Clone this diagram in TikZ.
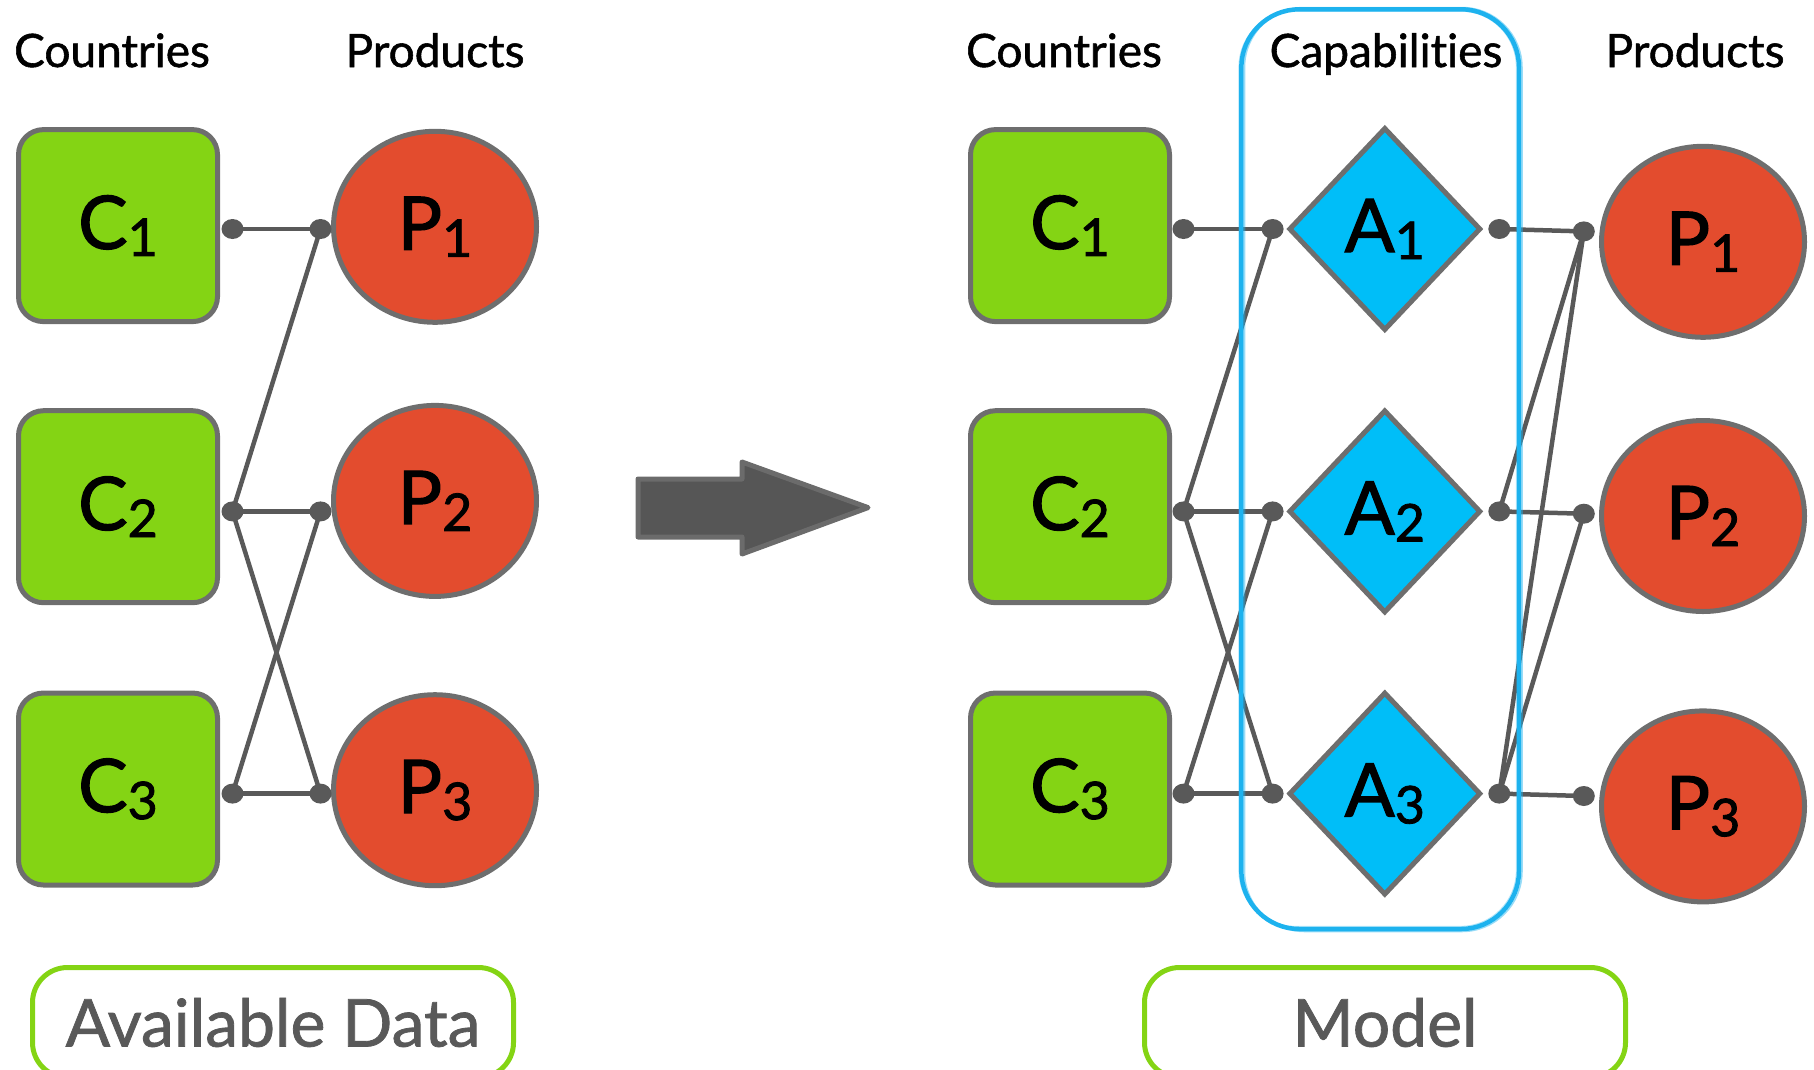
\documentclass[tikz,border=0pt]{standalone}
\usepackage{fontspec}
\setmainfont{Lato}[Ligatures=CommonOff]
\newfontfamily\nodefont{Lato}[Ligatures=CommonOff,FakeBold=1.6]
\newfontfamily\headfont{Lato}[Ligatures=CommonOff,FakeBold=1.2]
\usetikzlibrary{shapes.geometric}
\definecolor{cgreen}{HTML}{84D414}
\definecolor{cred}{HTML}{E34C2E}
\definecolor{cblue}{HTML}{00BEF8}
\definecolor{bordgray}{HTML}{6E6E6E}
\definecolor{linkgray}{HTML}{595959}
\definecolor{capblue}{HTML}{1DB2EE}
\definecolor{lgreen}{HTML}{84D414}
\definecolor{labelgray}{HTML}{595959}
\definecolor{arrowfill}{HTML}{565656}
\definecolor{arrowdraw}{HTML}{6B6B6B}
\newcommand{\lbl}[2]{#1\raisebox{-7pt}{\fontsize{52}{52}\selectfont #2}}
\begin{document}
\begin{tikzpicture}[x=1pt,y=-1pt,
 country/.style={draw=bordgray, line width=5pt, fill=cgreen, rounded corners=25pt, minimum width=199pt, minimum height=192pt, inner sep=0pt, font=\nodefont\fontsize{74}{80}\selectfont},
 product/.style={ellipse, draw=bordgray, line width=5pt, fill=cred, minimum width=203pt, minimum height=191pt, inner sep=0pt, font=\nodefont\fontsize{74}{80}\selectfont},
 capab/.style={diamond, draw=bordgray, line width=5pt, fill=cblue, minimum width=192pt, minimum height=203pt, inner sep=0pt, font=\nodefont\fontsize{74}{80}\selectfont},
 head/.style={font=\headfont\fontsize{46}{56}\selectfont, anchor=base, inner sep=0pt},
 link/.style={draw=linkgray, line width=4.5pt},
 labelbox/.style={draw=lgreen, line width=5pt, rounded corners=35pt, minimum width=481pt, minimum height=110pt, anchor=north, text=labelgray, font=\headfont\fontsize{66}{76}\selectfont, inner sep=0pt}]
\useasboundingbox (0,0) rectangle (1814,1069);
\clip (0,0) rectangle (1814,1069);

% headers
\node[head] (hlc) at (112,67) {Countries};
\node[head] (hlp) at (435,67) {Products};
\node[head] (hrc) at (1064,67) {Countries};
\node[head] (hra) at (1386,67) {Capabilities};
\node[head] (hrp) at (1695,67) {Products};

% left nodes
\node[country] (lc1) at (118,225.6) {\lbl{C}{1}};
\node[country] (lc2) at (118,506.7) {\lbl{C}{2}};
\node[country] (lc3) at (118,789) {\lbl{C}{3}};
\node[product] (lp1) at (435,226.8) {\lbl{P}{1}};
\node[product] (lp2) at (435,500.9) {\lbl{P}{2}};
\node[product] (lp3) at (435,790.2) {\lbl{P}{3}};

% right nodes
\node[country] (rc1) at (1070,225.6) {\lbl{C}{1}};
\node[country] (rc2) at (1070,506.7) {\lbl{C}{2}};
\node[country] (rc3) at (1070,789) {\lbl{C}{3}};
\node[capab] (ra1) at (1384.8,229) {\lbl{A}{1}};
\node[capab] (ra2) at (1384.8,511.4) {\lbl{A}{2}};
\node[capab] (ra3) at (1384.8,793.6) {\lbl{A}{3}};
\node[product] (rp1) at (1703,241.8) {\lbl{P}{1}};
\node[product] (rp2) at (1703,516) {\lbl{P}{2}};
\node[product] (rp3) at (1703,806.4) {\lbl{P}{3}};

% connector end points (dots)
\coordinate (lc1o) at (232.5,229);
\coordinate (lc2o) at (232.5,511.4);
\coordinate (lc3o) at (232.5,793.6);
\coordinate (lp1i) at (320.5,229);
\coordinate (lp2i) at (320.5,511.4);
\coordinate (lp3i) at (320.5,793.6);
\coordinate (rc1o) at (1183.5,229);
\coordinate (rc2o) at (1183.5,511.4);
\coordinate (rc3o) at (1183.5,793.6);
\coordinate (ra1i) at (1272.6,229);
\coordinate (ra2i) at (1272.6,511.4);
\coordinate (ra3i) at (1272.6,793.6);
\coordinate (ra1o) at (1499.3,229);
\coordinate (ra2o) at (1499.3,511.4);
\coordinate (ra3o) at (1499.3,793.6);
\coordinate (rp1i) at (1583.8,231.4);
\coordinate (rp2i) at (1583.8,513.7);
\coordinate (rp3i) at (1583.8,796);

% left links
\draw[link] (lc1o) -- (lp1i);
\draw[link] (lc2o) -- (lp1i);
\draw[link] (lc2o) -- (lp2i);
\draw[link] (lc2o) -- (lp3i);
\draw[link] (lc3o) -- (lp2i);
\draw[link] (lc3o) -- (lp3i);
% right links
\draw[link] (rc1o) -- (ra1i);
\draw[link] (rc2o) -- (ra1i);
\draw[link] (rc2o) -- (ra2i);
\draw[link] (rc2o) -- (ra3i);
\draw[link] (rc3o) -- (ra2i);
\draw[link] (rc3o) -- (ra3i);
\draw[link] (ra1o) -- (rp1i);
\draw[link] (ra2o) -- (rp1i);
\draw[link] (ra2o) -- (rp2i);
\draw[link] (ra3o) -- (rp1i);
\draw[link] (ra3o) -- (rp2i);
\draw[link] (ra3o) -- (rp3i);

\foreach \p in {lc1o,lc2o,lc3o,lp1i,lp2i,lp3i,rc1o,rc2o,rc3o,ra1i,ra2i,ra3i,ra1o,ra2o,ra3o,rp1i,rp2i,rp3i}
  \fill[linkgray] (\p) ellipse (11pt and 10pt);

% big arrow
\draw[fill=arrowfill, draw=arrowdraw, line width=5pt, line join=round]
  (638,479) -- (742,479) -- (742,462) -- (868,507.6) -- (742,554) -- (742,537) -- (638,537) -- cycle;

% capabilities frame
\draw[capblue, line width=4.5pt, rounded corners=58pt] (1241.4,9.3) rectangle (1519,929);
\draw[capblue, opacity=0.45, line width=1.5pt, rounded corners=60pt] (1244.5,7.5) rectangle (1522,931.5);
\draw[capblue, opacity=0.35, line width=1.2pt, rounded corners=56pt] (1239,11) rectangle (1516.5,926.5);

% bottom labels
\node[labelbox] (avail) at (273,965) {Available Data};
\node[labelbox] (model) at (1385,965) {Model};
\end{tikzpicture}
\end{document}
